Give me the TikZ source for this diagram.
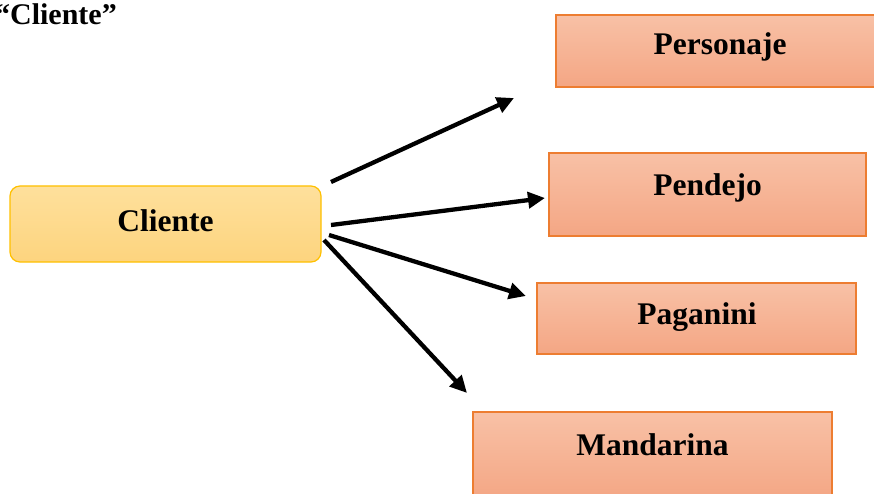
\documentclass[tikz,border=0pt]{standalone}
\usepackage{fontspec}
\setmainfont{Liberation Serif}
\usetikzlibrary{arrows.meta}
\definecolor{clitop}{RGB}{254,224,156}
\definecolor{clibot}{RGB}{253,212,126}
\definecolor{cliline}{RGB}{255,192,0}
\definecolor{ortop}{RGB}{248,193,166}
\definecolor{orbot}{RGB}{244,166,132}
\definecolor{orline}{RGB}{237,125,49}
\tikzset{
  clibox/.style={draw=cliline, line width=1.2pt, rounded corners=10pt, top color=clitop, bottom color=clibot},
  orbox/.style={draw=orline, line width=1.2pt, top color=ortop, bottom color=orbot},
  lbl/.style={font=\fontsize{31.5}{31.5}\selectfont\bfseries, anchor=base, inner sep=0pt},
  ttl/.style={font=\fontsize{30}{30}\selectfont\bfseries, anchor=base east, inner sep=0pt},
  arr/.style={line width=4.3pt, -{Triangle[length=17pt,width=16pt]}}
}
\begin{document}
\begin{tikzpicture}[x=1pt,y=-1pt]
\useasboundingbox (0,0) rectangle (874,494);
\clip (0,0) rectangle (874,494);
% title
\node[ttl] (title) at (117,25) {“Cliente”};
% boxes
\path[clibox] (10,186) rectangle (321,262);
\node[lbl] (cli) at (165.5,231) {Cliente};
\path[orbox] (556,15) rectangle (882,87);
\node[lbl] (pers) at (720,55) {Personaje};
\path[orbox] (549,153) rectangle (866,236);
\node[lbl] (pend) at (707.5,196) {Pendejo};
\path[orbox] (537,283) rectangle (856,354);
\node[lbl] (paga) at (697,324) {Paganini};
\path[orbox] (473,412) rectangle (832,500);
\node[lbl] (mand) at (652.5,455) {Mandarina};
% arrow end points
\coordinate (s1) at (331,182);
\coordinate (e1) at (514,98);
\coordinate (s2) at (331,225);
\coordinate (e2) at (545,198);
\coordinate (s3) at (329,235);
\coordinate (e3) at (526,296);
\coordinate (s4) at (324,240);
\coordinate (e4) at (467,393);
\draw[arr] (s1) -- (e1);
\draw[arr] (s2) -- (e2);
\draw[arr] (s3) -- (e3);
\draw[arr] (s4) -- (e4);
\end{tikzpicture}
\end{document}
